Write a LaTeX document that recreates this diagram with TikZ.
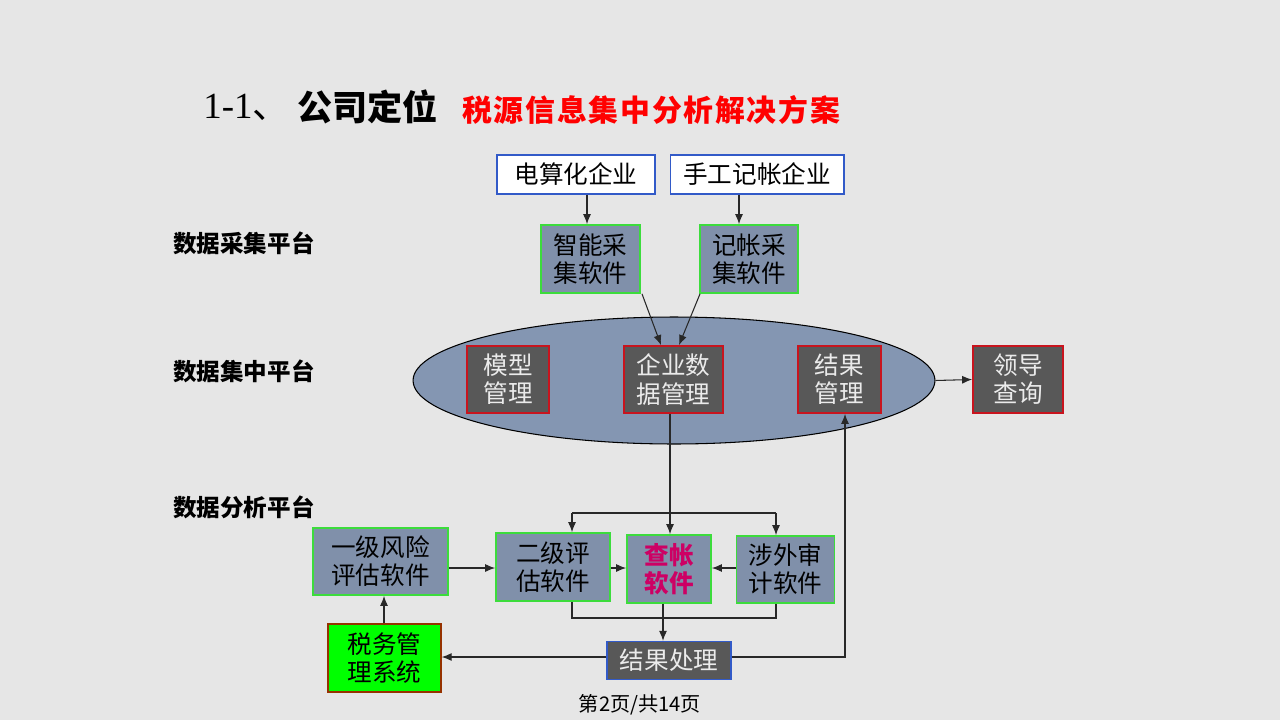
\documentclass[tikz,border=0pt]{standalone}
\usepackage{fontspec}
\usetikzlibrary{arrows.meta,shapes.geometric}
\setmainfont{Liberation Serif}
\newfontfamily\cjk{Noto Sans CJK SC}
\definecolor{bgc}{RGB}{230,230,230}
\definecolor{bluegray}{RGB}{128,144,170}
\definecolor{ellfill}{RGB}{132,150,178}
\definecolor{darkbox}{RGB}{88,88,88}
\definecolor{greenb}{RGB}{60,220,60}
\definecolor{redb}{RGB}{200,20,30}
\definecolor{blueb}{RGB}{50,90,200}
\definecolor{brownb}{RGB}{150,50,0}
\definecolor{brightgreen}{RGB}{0,255,0}
\definecolor{crimsontxt}{RGB}{205,0,100}
\definecolor{linec}{RGB}{40,40,40}
\definecolor{lighttxt}{RGB}{235,235,235}
\tikzset{
  base/.style={inner sep=0pt, align=center, font=\cjk\fontsize{14}{16}\selectfont},
  whitebox/.style={base, draw=blueb, fill=white, line width=0.6pt},
  softbox/.style={base, draw=greenb, fill=bluegray, line width=1pt},
  darkbx/.style={base, draw=redb, fill=darkbox, line width=1pt, text=lighttxt},
  sysbox/.style={base, draw=brownb, fill=brightgreen, line width=0.8pt},
  resbox/.style={base, draw=blueb, fill=darkbox, line width=0.8pt, text=lighttxt},
  lvl/.style={inner sep=0pt, anchor=west, font=\cjk\bfseries\fontsize{13.4}{15}\selectfont},
  arr/.style={draw=linec, line width=0.6pt, -{Latex[length=2mm,width=1.6mm]}},
  ln/.style={draw=linec, line width=0.6pt}
}
\begin{document}
\begin{tikzpicture}[x=0.02cm,y=-0.02cm]
\fill[bgc] (0,0) rectangle (1280,720);
\useasboundingbox (0,0) rectangle (1280,720);

% title
\node[inner sep=0pt, anchor=west] (t1) at (203,107) {\fontsize{21}{24}\selectfont 1-1\cjk 、};
\node[inner sep=0pt, anchor=west, font=\cjk\bfseries\fontsize{20}{24}\selectfont] (t2) at (297,107) {公司定位};
\node[inner sep=0pt, anchor=west, text=red, font=\cjk\bfseries\fontsize{17}{20}\selectfont] (t3) at (462,110) {税\kern1pt 源\kern1pt 信\kern1pt 息\kern1pt 集\kern1pt 中\kern1pt 分\kern1pt 析\kern1pt 解\kern1pt 决\kern1pt 方\kern1pt 案};

% level labels
\node[lvl] (l1) at (173,243) {数据采集平台};
\node[lvl] (l2) at (173,371) {数据集中平台};
\node[lvl] (l3) at (173,507) {数据分析平台};

% top sources
\node[whitebox, minimum width=3.16cm, minimum height=0.78cm] (dsh) at (576,174.5) {电算化企业};
\node[whitebox, minimum width=3.48cm, minimum height=0.78cm] (sg) at (757,174.5) {手工记帐企业};

\node[softbox, minimum width=1.98cm, minimum height=1.36cm] (zn) at (590.5,259) {智能采\\集软件};
\node[softbox, minimum width=1.96cm, minimum height=1.36cm] (jz) at (749,259) {记帐采\\集软件};

% ellipse
\node[ellipse, draw=black, fill=ellfill, line width=0.6pt, minimum width=10.44cm, minimum height=2.54cm, inner sep=0pt] (ell) at (674,380.5) {};
\node[darkbx, minimum width=1.64cm, minimum height=1.34cm] (mx) at (508,379.5) {模型\\管理};
\node[darkbx, minimum width=1.98cm, minimum height=1.34cm] (qy) at (673.5,379.5) {企业数\\据管理};
\node[darkbx, minimum width=1.66cm, minimum height=1.34cm] (jg) at (839.5,379.5) {结果\\管理};
\node[darkbx, minimum width=1.8cm, minimum height=1.34cm] (ld) at (1018,379.5) {领导\\查询};

% analysis
\node[softbox, minimum width=2.7cm, minimum height=1.34cm] (yj) at (380.5,561.5) {一级风险\\评估软件};
\node[softbox, minimum width=2.28cm, minimum height=1.36cm] (ej) at (553,567) {二级评\\估软件};
\node[softbox, minimum width=1.68cm, minimum height=1.36cm, text=crimsontxt, font=\cjk\bfseries\fontsize{14}{16}\selectfont] (cz) at (669,569) {查帐\\软件};
\node[softbox, minimum width=1.96cm, minimum height=1.34cm] (sw) at (785.5,569.5) {涉外审\\计软件};
\node[sysbox, minimum width=2.26cm, minimum height=1.36cm] (sx) at (384.5,658) {税务管\\理系统};
\node[resbox, minimum width=2.48cm, minimum height=0.76cm] (cl) at (669,660.5) {结果处理};

% footer
\node[inner sep=0pt, font=\cjk\fontsize{11.5}{13}\selectfont] (ft) at (640,705) {第2页/共14页};

% connectors
\draw[arr] (dsh.south -| 587,0) -- (zn.north -| 587,0);
\draw[arr] (sg.south -| 739,0) -- (jz.north -| 739,0);
\draw[arr] (zn.south -| 642,0) -- (qy.north -| 661,0);
\draw[arr] (jz.south -| 700,0) -- (qy.north -| 679,0);
\draw[arr] (ell.east) -- (ld.west);

\coordinate (dl) at (572,513);
\coordinate (dm) at (670,513);
\coordinate (dr) at (776,513);
\draw[ln] (qy.south -| dm) -- (dm);
\draw[ln] (dl) -- (dr);
\draw[arr] (dl) -- (ej.north -| dl);
\draw[arr] (dm) -- (cz.north -| dm);
\draw[arr] (dr) -- (sw.north -| dr);

\draw[arr] (yj.east |- 0,568) -- (ej.west |- 0,568);
\draw[arr] (ej.east |- 0,568) -- (cz.west |- 0,568);
\draw[arr] (sw.west |- 0,568) -- (cz.east |- 0,568);

\coordinate (bl) at (572,618);
\coordinate (br) at (776,618);
\draw[ln] (ej.south -| bl) -- (bl) -- (br) -- (sw.south -| br);
\draw[arr] (cz.south -| 663,0) -- (cl.north -| 663,0);

\draw[arr] (cl.west |- 0,657) -- (sx.east |- 0,657);
\coordinate (rc) at (845,657);
\draw[arr] (cl.east |- rc) -- (rc) -- (jg.south -| rc);
\draw[arr] (sx.north -| 384,0) -- (yj.south -| 384,0);
\end{tikzpicture}
\end{document}
